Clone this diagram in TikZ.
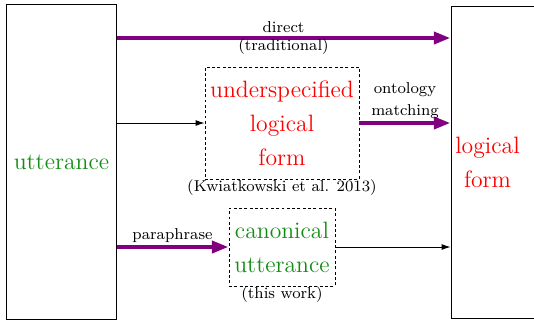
\documentclass[tikz,border=0pt]{standalone}
\usepackage{xcolor}
\usetikzlibrary{positioning,arrows.meta}
\definecolor{uttgreen}{RGB}{20,140,20}
\definecolor{lfred}{RGB}{255,0,0}
\definecolor{arrowpurple}{RGB}{128,0,128}

\begin{document}
\begin{tikzpicture}[x=0.507pt,y=-0.507pt,
  bigbox/.style={draw,line width=0.5pt,inner sep=0pt},
  dashbox/.style={draw,line width=0.45pt,dash pattern=on 1.5pt off 1.2pt,inner sep=0pt,align=center,font=\large},
  fatarrow/.style={draw=arrowpurple,line width=2.4pt,-{Triangle[length=8.5pt,width=6pt]}},
  thinarrow/.style={draw=black,line width=0.45pt,-{Latex[length=4.5pt,width=3pt]}},
  lbl/.style={font=\footnotesize,inner sep=1pt,align=center},
  cite/.style={font=\footnotesize,inner sep=0pt}]
\useasboundingbox (0,0) rectangle (534,322);
% utterance
\node[bigbox,minimum width=55.3pt,minimum height=160pt,text=uttgreen,font=\large] (utt) at (61.5,162) {utterance};
% logical form (box runs off the right edge)
\node[bigbox,minimum width=45.1pt,minimum height=158pt] (lfbox) at (495.5,162.5) {};
\node[text=lfred,font=\large,align=center] (lf) at (487.5,162.5) {logical\\[3.5pt]form};
% underspecified logical form
\node[dashbox,minimum width=78.1pt,minimum height=56.8pt,text=lfred] (usp) at (282,123) {underspecified\\[3.2pt]logical\\[3.2pt]form};
\node[cite,below = 0pt of usp] (uspcite) {(Kwiatkowski et al. 2013)};
% canonical utterance
\node[dashbox,minimum width=53.7pt,minimum height=39.5pt,text=uttgreen] (can) at (282,247) {canonical\\[3.2pt]utterance};
\node[cite,below = 0pt of can] (cancite) {(this work)};
% Arrows
\coordinate (dir) at (0,38);
\draw[fatarrow] (utt.east |- dir) -- node[lbl,inner sep=0pt] (dirlbl) {direct\\(traditional)} (lfbox.west |- dir);
\draw[thinarrow] (utt.east |- usp.west) -- (usp.west);
\draw[fatarrow] (usp.east) -- node[lbl,above] (ontlbl) {ontology\\[1.7pt]matching} (lfbox.west |- usp.east);
\draw[fatarrow] (utt.east |- can.west) -- node[lbl,above] (paralbl) {paraphrase} (can.west);
\draw[thinarrow] (can.east) -- (lfbox.west |- can.east);
\end{tikzpicture}
\end{document}
